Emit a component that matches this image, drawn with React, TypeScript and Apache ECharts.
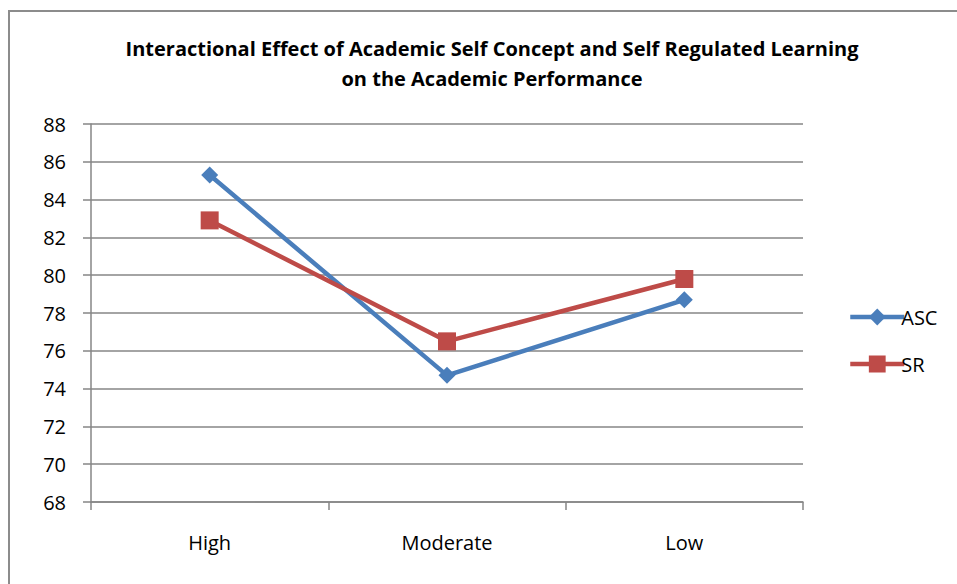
import React, { useEffect, useRef } from "react";
import * as echarts from "echarts";

const categories = ["High", "Moderate", "Low"];
const ascValues = [85.3, 74.7, 78.7];
const srValues = [82.9, 76.5, 79.8];
const titleLines = [
  "Interactional Effect of Academic Self Concept and Self Regulated Learning",
  "on the Academic Performance",
];

export default function App() {
  const ref = useRef<HTMLDivElement>(null);
  useEffect(() => {
    const chart = echarts.init(ref.current!, null, { renderer: "svg" });
    const font = "Open Sans";
    chart.setOption({
      animation: false,
      backgroundColor: "#ffffff",
      title: {
        text: titleLines.join("\n"),
        left: 487,
        top: 28,
        textAlign: "center",
        textStyle: {
          fontFamily: font,
          fontWeight: "bold",
          fontSize: 20,
          lineHeight: 30,
          color: "#000",
        },
      },
      graphic: [
        {
          type: "rect",
          shape: { x: 9, y: 11, width: 1000, height: 700 },
          style: { fill: "none", stroke: "#8c8c8c", lineWidth: 2 },
          silent: true,
        },
      ],
      legend: {
        orient: "vertical",
        left: 843,
        top: 302,
        itemWidth: 54,
        itemHeight: 21,
        itemGap: 27,
        lineStyle: { width: 4.5 },
        textStyle: { fontFamily: font, fontSize: 20, color: "#000", padding: [0, 0, 0, -8] },
        data: ["ASC", "SR"],
      },
      grid: { left: 91, top: 124, width: 712, height: 378, containLabel: false },
      xAxis: {
        type: "category",
        data: categories,
        boundaryGap: true,
        axisLine: { lineStyle: { color: "#868686", width: 1.5 } },
        axisTick: { show: true, length: 8, lineStyle: { color: "#868686", width: 1.5 } },
        axisLabel: { fontFamily: font, fontSize: 20, color: "#000", margin: 30 },
      },
      yAxis: {
        type: "value",
        min: 68,
        max: 88,
        interval: 2,
        axisLine: { show: true, lineStyle: { color: "#868686", width: 1.5 } },
        axisTick: { show: true, length: 8, lineStyle: { color: "#868686", width: 1.5 } },
        axisLabel: { fontFamily: font, fontSize: 20, color: "#000", margin: 25 },
        splitLine: { show: true, lineStyle: { color: "#868686", width: 1.5 } },
      },
      series: [
        {
          name: "ASC",
          type: "line",
          data: ascValues,
          symbol: "diamond",
          symbolSize: 17,
          itemStyle: { color: "#4a7ebb" },
          lineStyle: { color: "#4a7ebb", width: 4.5 },
        },
        {
          name: "SR",
          type: "line",
          data: srValues,
          symbol: "rect",
          symbolSize: 18,
          itemStyle: { color: "#be4b48" },
          lineStyle: { color: "#be4b48", width: 4.5 },
        },
      ],
    });
    return () => chart.dispose();
  }, []);
  return (
    <div
      ref={ref}
      style={{ position: "fixed", left: 0, top: 0, width: 957, height: 584 }}
    />
  );
}
